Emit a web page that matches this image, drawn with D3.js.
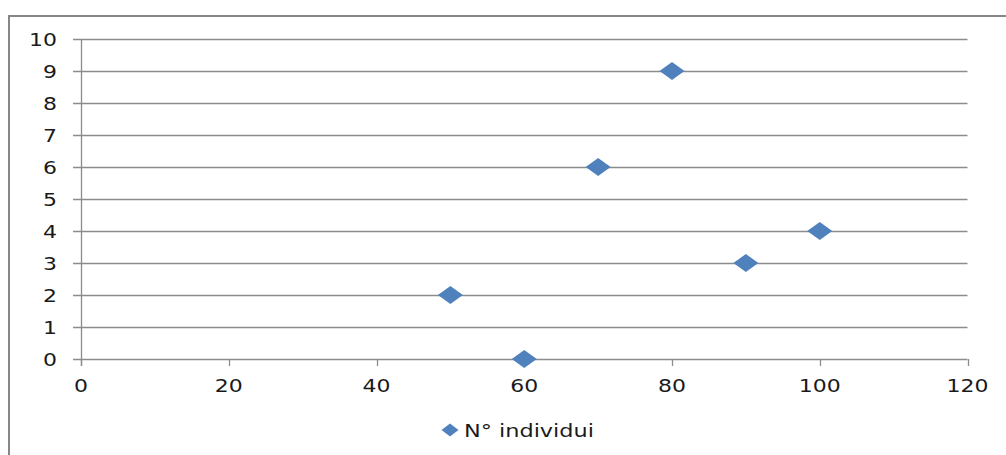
<!DOCTYPE html>
<html>
<head>
<meta charset="utf-8">
<script src="https://cdn.jsdelivr.net/npm/d3@7"></script>
<style>
  body { margin: 0; background: #fff; }
  text { font-family: "DejaVu Sans", sans-serif; fill: #1a1a1a; }
</style>
</head>
<body>
<div id="vis"></div>
<script>
// chart data
var xValues = [50, 60, 70, 80, 90, 100];
var yValues = [2, 0, 6, 9, 3, 4];
var seriesName = "N° individui";
var xTicks = [0, 20, 40, 60, 80, 100, 120];
var yTicks = [0, 1, 2, 3, 4, 5, 6, 7, 8, 9, 10];

var width = 1006;
var height = 455;
var margin = { top: 39, left: 81, bottom: 96, right: 39 };
var color = "#4f81bd";
var gridColor = "#8c8c8c";
// the reference text is drawn horizontally stretched
var stretch = 1.22;

var svg = d3.select('#vis').append('svg')
    .attr('width', width)
    .attr('height', height);

// outer chart border (clipped by the window on the right and bottom)
svg.append('rect')
    .attr('x', 9)
    .attr('y', 16)
    .attr('width', 1010)
    .attr('height', 460)
    .style('fill', 'none')
    .style('stroke', '#878787')
    .style('stroke-width', 2);

var x = d3.scaleLinear()
    .domain([0, 120])
    .range([margin.left, width - margin.right + 0.5]);

var y = d3.scaleLinear()
    .domain([0, 10])
    .range([height - margin.bottom, margin.top]);

// horizontal gridlines
svg.append('g')
    .attr('class', 'grid')
    .selectAll('line')
    .data(yTicks)
    .enter().append('line')
    .attr('x1', x(0) - 8)
    .attr('x2', x(120))
    .attr('y1', function (d) { return Math.round(y(d)) + 0.5; })
    .attr('y2', function (d) { return Math.round(y(d)) + 0.5; })
    .style('stroke', gridColor)
    .style('stroke-width', 1.3);

// y axis line
svg.append('line')
    .attr('x1', x(0) + 0.5).attr('x2', x(0) + 0.5)
    .attr('y1', y(10)).attr('y2', y(0) + 7)
    .style('stroke', gridColor)
    .style('stroke-width', 1.3);

// x tick marks
svg.append('g')
    .selectAll('line')
    .data(xTicks)
    .enter().append('line')
    .attr('x1', function (d) { return Math.round(x(d)) + 0.5; })
    .attr('x2', function (d) { return Math.round(x(d)) + 0.5; })
    .attr('y1', y(0))
    .attr('y2', y(0) + 7)
    .style('stroke', gridColor)
    .style('stroke-width', 1.3);

// y labels
svg.append('g')
    .selectAll('text')
    .data(yTicks)
    .enter().append('text')
    .attr('transform', function (d) {
        return 'translate(57,' + (y(d) + 6.5) + ') scale(' + stretch + ',1)';
    })
    .attr('text-anchor', 'end')
    .style('font-size', '18px')
    .text(function (d) { return d; });

// x labels
svg.append('g')
    .selectAll('text')
    .data(xTicks)
    .enter().append('text')
    .attr('transform', function (d) {
        return 'translate(' + x(d) + ',' + (y(0) + 33) + ') scale(' + stretch + ',1)';
    })
    .attr('text-anchor', 'middle')
    .style('font-size', '18px')
    .text(function (d) { return d; });

// diamond marker (wider than tall, as in the reference)
function diamond(cx, cy, hw, hh) {
    return 'M' + (cx - hw) + ',' + cy + 'L' + cx + ',' + (cy - hh) +
        'L' + (cx + hw) + ',' + cy + 'L' + cx + ',' + (cy + hh) + 'Z';
}

svg.append('g')
    .attr('class', 'points')
    .selectAll('path')
    .data(xValues)
    .enter().append('path')
    .attr('d', function (d, i) { return diamond(x(d), y(yValues[i]), 12.5, 9); })
    .style('fill', color);

// legend
var legend = svg.append('g').attr('class', 'legend');
legend.append('path')
    .attr('d', diamond(450, 430, 8.5, 6.5))
    .style('fill', color);
legend.append('text')
    .attr('transform', 'translate(464,436.5) scale(1.28,1)')
    .style('font-size', '17.5px')
    .text(seriesName);
</script>
</body>
</html>
